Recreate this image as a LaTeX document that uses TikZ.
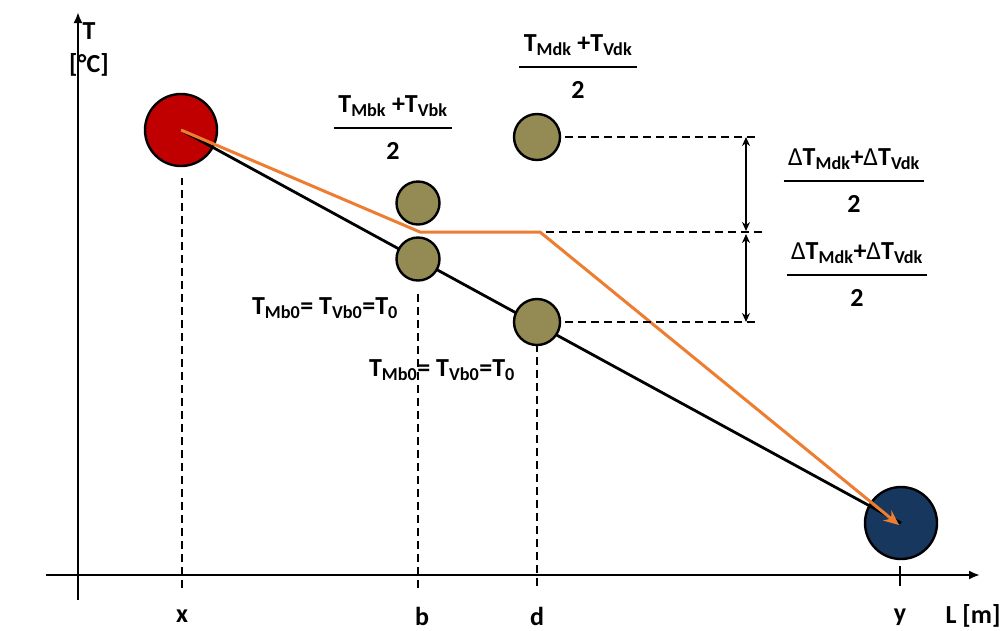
\documentclass[tikz,border=0pt]{standalone}
\usepackage{fontspec}
\setmainfont{Carlito}
\usetikzlibrary{arrows.meta}
\definecolor{hotred}{HTML}{C00000}
\definecolor{coldblue}{HTML}{17375E}
\definecolor{olive}{HTML}{948A54}
\definecolor{lineorange}{HTML}{ED7D31}
\setlength{\arrayrulewidth}{2pt}
\newcommand{\halfof}[1]{\begin{tabular}{@{\,}c@{\,}}#1\\[5pt]\hline\rule{0pt}{31pt}2\end{tabular}}
\tikzset{
  ball/.style={circle,draw=black,line width=2.4pt,inner sep=0pt},
  probe/.style={ball,fill=olive,minimum size=43pt},
  guide/.style={line width=1.8pt,dash pattern=on 8pt off 5pt},
  lbl/.style={font=\bfseries\fontsize{26}{30}\selectfont,inner sep=1pt}
}
\begin{document}
\begin{tikzpicture}[x=1pt,y=-1pt]
\useasboundingbox (0,0) rectangle (1008,630);

% axes
\coordinate (o1) at (78,600);
\coordinate (o2) at (78,12);
\coordinate (h1) at (46,575);
\coordinate (h2) at (980,575);
\draw[line width=2.6pt,-{Latex[length=11pt,width=9pt]}] (o1) -- (o2);
\draw[line width=2.6pt,-{Latex[length=11pt,width=9pt]}] (h1) -- (h2);

\node[lbl] (tl) at (89,31) {T};
\node[lbl] (tu) at (89,65) {[°C]};
\node[lbl] (xl) at (182,616) {x};
\node[lbl] (bl) at (422,616) {b};
\node[lbl] (dl) at (537,616) {d};
\node[lbl] (yl) at (900,617) {y};
\node[lbl] (ll) at (973,616) {L [m]};

% hot and cold ends
\node[ball,fill=hotred,minimum size=72pt] (hot) at (181,130) {};
\node[ball,fill=coldblue,minimum size=72pt] (cold) at (901,523) {};

% vertical guides
\coordinate (xb) at (182,588);
\coordinate (bb) at (418,588);
\coordinate (db) at (537,586);
\coordinate (yt) at (900,566);
\coordinate (yb) at (900,586);
\draw[guide] (xb) -- (182,178);
\draw[guide] (bb) -- (418,290);
\draw[guide] (db) -- (537,346);
\draw[line width=1.8pt] (yt) -- (yb);

% temperature lines
\coordinate (kb) at (420,232);
\coordinate (kd) at (540,232);
\draw[line width=2.8pt] (hot.center) -- (cold.center);
\draw[lineorange,line width=3pt,-{Stealth[length=15pt,width=13pt]}] (hot.center) -- (kb) -- (kd) -- ([xshift=-2pt,yshift=-2pt]cold.center);

% probes
\node[probe] (bk) at (418,203) {};
\node[probe] (b0) at (418,259) {};
\node[probe,minimum size=46pt] (dk) at (537,137) {};
\node[probe,minimum size=46pt] (d0) at (537,322) {};

% horizontal guides
\coordinate (gt) at (755,137);
\coordinate (gm) at (763,232);
\coordinate (gb) at (760,322);
\draw[guide] (dk.east) ++(4,0) -- (gt);
\draw[guide] (kd) ++(6,0) -- (gm);
\draw[guide] (d0.east) ++(4,0) -- (gb);

% spans
\coordinate (s1) at (746,137);
\coordinate (s2) at (746,231);
\coordinate (s3) at (746,234);
\coordinate (s4) at (746,322);
\draw[line width=1.8pt,{Stealth[length=9pt,width=8pt]}-{Stealth[length=9pt,width=8pt]}] (s1) -- (s2);
\draw[line width=1.8pt,{Stealth[length=9pt,width=8pt]}-{Stealth[length=9pt,width=8pt]}] (s3) -- (s4);

% labels
\node[lbl] (fb) at (393,130) {\halfof{T\textsubscript{Mbk} +T\textsubscript{Vbk}}};
\node[lbl] (fd) at (578,69) {\halfof{T\textsubscript{Mdk} +T\textsubscript{Vdk}}};
\node[lbl] (fu) at (854,183) {\halfof{\textmd{Δ}T\textsubscript{Mdk}+\textmd{Δ}T\textsubscript{Vdk}}};
\node[lbl] (fl) at (857,277) {\halfof{\textmd{Δ}T\textsubscript{Mdk}+\textmd{Δ}T\textsubscript{Vdk}}};
\node[lbl] (eb) at (325,308) {T\textsubscript{Mb0}= T\textsubscript{Vb0}=T\textsubscript{0}};
\node[lbl] (ed) at (442,370) {T\textsubscript{Mb0}= T\textsubscript{Vb0}=T\textsubscript{0}};
\end{tikzpicture}
\end{document}
